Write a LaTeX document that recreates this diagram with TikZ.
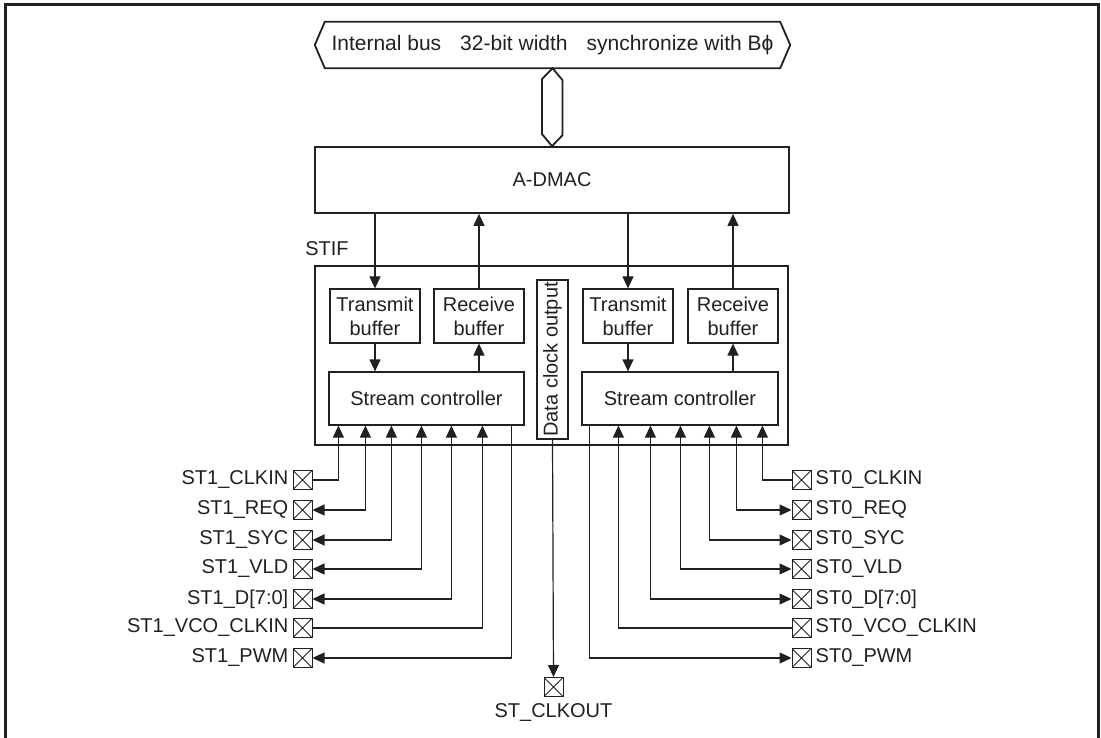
\documentclass[tikz,border=0pt]{standalone}
\usepackage{fontspec}
\setmainfont{Liberation Sans}
\usetikzlibrary{arrows.meta, positioning}
\definecolor{ink}{RGB}{35,31,32}

\tikzset{
	box/.style={draw=ink, line width=1.2pt, inner sep=0pt, align=center},
	pad/.style={draw=ink, line width=1pt, minimum size=19pt, inner sep=0pt,
		path picture={\draw[ink, line width=0.8pt] (path picture bounding box.south west) -- (path picture bounding box.north east)
			(path picture bounding box.north west) -- (path picture bounding box.south east);}},
	wire/.style={ink, line width=1.2pt},
}

\begin{document}
\begin{tikzpicture}[x=1pt, y=-1pt, >={Triangle[width=11pt,length=12pt]}, every node/.style={font=\fontsize{20}{24}\selectfont, text=ink}, every label/.style={inner sep=4pt}]
	\useasboundingbox (0,0) rectangle (1101,738);
	\draw[ink, line width=3pt] (5,738) -- (5,4.5) -- (1098,4.5) -- (1098,738);

	% Bus and A-DMAC
	\node[minimum width=455pt, minimum height=46pt, inner sep=0pt, font=\fontsize{21}{24}\selectfont] (bus) at (552.5,45) {Internal bus\hspace{19pt}32-bit width\hspace{19pt}synchronize with Bϕ};
	\node[box, line width=1.8pt, minimum width=474pt, minimum height=66pt] (admac) at (552,180) {A-DMAC};
	\draw[ink, line width=1.8pt] ([xshift=-10pt]bus.west) -- (bus.north west) -- (bus.north east) -- ([xshift=10pt]bus.east) -- (bus.south east) -- (bus.south west) -- cycle;
	\draw[ink, line width=1.8pt] (bus.south) -- ++(10,12) -- ++(0,55) -- (admac.north) -- ++(-10,-12) -- ++(0,-55) -- cycle;

	% STIF block
	\node[box, line width=2.8pt, minimum width=473pt, minimum height=179pt] (stif) at (551.5,355.5) {};
	\node (stiflabel) at (327,249) {STIF};
	\node[box, minimum width=90pt, minimum height=54pt] (tx1) at (375,316) {Transmit\\buffer};
	\node[box, minimum width=90pt, minimum height=54pt] (rx1) at (479,316) {Receive\\buffer};
	\node[box, minimum width=195pt, minimum height=53pt] (sc1) at (426.5,398.5) {Stream controller};
	\node[box, minimum width=90pt, minimum height=54pt] (tx0) at (628,316) {Transmit\\buffer};
	\node[box, minimum width=90pt, minimum height=54pt] (rx0) at (733,316) {Receive\\buffer};
	\node[box, minimum width=196pt, minimum height=53pt] (sc0) at (680,398.5) {Stream controller};
	\node[box, rotate=90, minimum width=159pt, minimum height=31pt] (dco) at (552.5,359.5) {Data clock output};

	\draw[wire, ->] (admac.south -| tx1.north) -- (tx1.north);
	\draw[wire, ->] (rx1.north) -- (rx1.north |- admac.south);
	\draw[wire, ->] (tx1.south) -- (tx1.south |- sc1.north);
	\draw[wire, ->] (rx1.south |- sc1.north) -- (rx1.south);
	\draw[wire, ->] (admac.south -| tx0.north) -- (tx0.north);
	\draw[wire, ->] (rx0.north) -- (rx0.north |- admac.south);
	\draw[wire, ->] (tx0.south) -- (tx0.south |- sc0.north);
	\draw[wire, ->] (rx0.south |- sc0.north) -- (rx0.south);

	% Pins of stream 1
	\node[pad, label=left:{ST1\_CLKIN}] (p1clkin) at (302.5,480) {};
	\node[pad, label=left:{ST1\_REQ}] (p1req) at (302.5,510) {};
	\node[pad, label=left:{ST1\_SYC}] (p1syc) at (302.5,540) {};
	\node[pad, label=left:{ST1\_VLD}] (p1vld) at (302.5,569) {};
	\node[pad, label=left:{ST1\_D[7:0]}] (p1data) at (302.5,599) {};
	\node[pad, label=left:{ST1\_VCO\_CLKIN}] (p1vco) at (302.5,628) {};
	\node[pad, label=left:{ST1\_PWM}] (p1pwm) at (302.5,658) {};

	\draw[wire, ->] (p1clkin.east) -| ([xshift=10pt]sc1.south west);
	\draw[wire, <->] (p1req.east) -| ([xshift=37pt]sc1.south west);
	\draw[wire, <->] (p1syc.east) -| ([xshift=63pt]sc1.south west);
	\draw[wire, <->] (p1vld.east) -| ([xshift=93pt]sc1.south west);
	\draw[wire, <->] (p1data.east) -| ([xshift=123pt]sc1.south west);
	\draw[wire, ->] (p1vco.east) -| ([xshift=154pt]sc1.south west);
	\draw[wire, <-] (p1pwm.east) -| ([xshift=183pt]sc1.south west);

	% Pins of stream 0
	\node[pad, label=right:{ST0\_CLKIN}] (p0clkin) at (801.5,480) {};
	\node[pad, label=right:{ST0\_REQ}] (p0req) at (801.5,510) {};
	\node[pad, label=right:{ST0\_SYC}] (p0syc) at (801.5,540) {};
	\node[pad, label=right:{ST0\_VLD}] (p0vld) at (801.5,569) {};
	\node[pad, label=right:{ST0\_D[7:0]}] (p0data) at (801.5,599) {};
	\node[pad, label=right:{ST0\_VCO\_CLKIN}] (p0vco) at (801.5,628) {};
	\node[pad, label=right:{ST0\_PWM}] (p0pwm) at (801.5,658) {};

	\draw[wire, ->] (p0clkin.west) -| ([xshift=181pt]sc0.south west);
	\draw[wire, <->] (p0req.west) -| ([xshift=155pt]sc0.south west);
	\draw[wire, <->] (p0syc.west) -| ([xshift=128pt]sc0.south west);
	\draw[wire, <->] (p0vld.west) -| ([xshift=99pt]sc0.south west);
	\draw[wire, <->] (p0data.west) -| ([xshift=69pt]sc0.south west);
	\draw[wire, ->] (p0vco.west) -| ([xshift=37pt]sc0.south west);
	\draw[wire, <-] (p0pwm.west) -| ([xshift=8pt]sc0.south west);

	% Clock output pin
	\node[pad, label={[inner sep=6pt]below:{ST\_CLKOUT}}] (clkout) at (553.5,687) {};
	\draw[wire, ->] (dco.west) -- (clkout.north);
\end{tikzpicture}
\end{document}
